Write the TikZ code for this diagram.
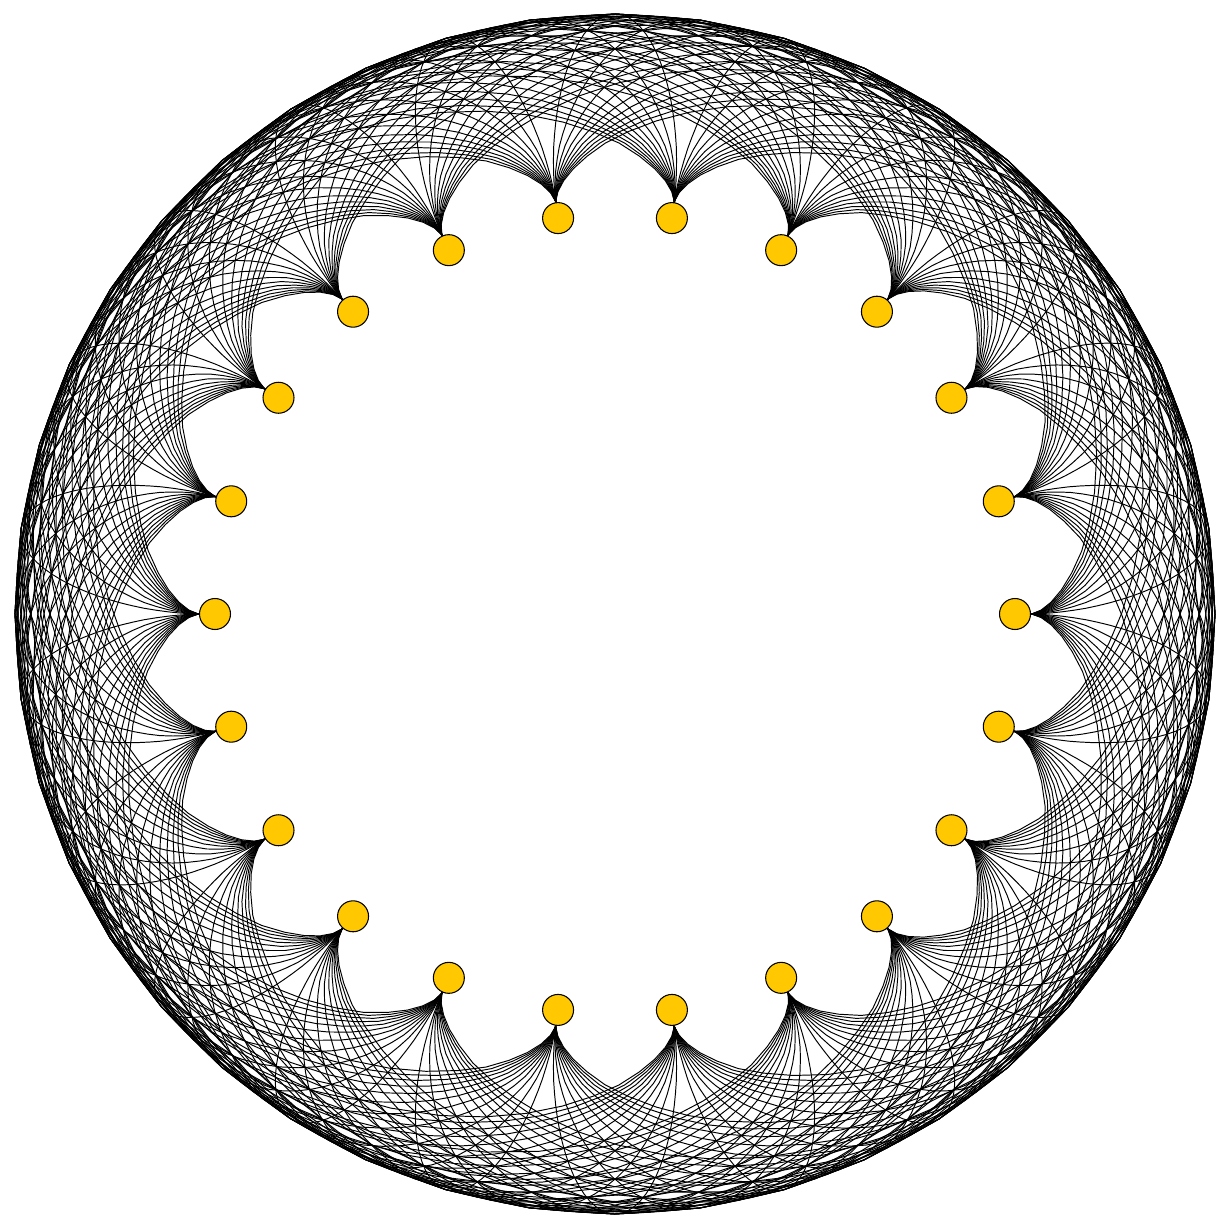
\documentclass[tikz,border=0pt]{standalone}
\usepackage{tikz}
\pgfdeclarelayer{edges}
\pgfsetlayers{edges,main}
\definecolor{vgold}{RGB}{255,200,0}
\tikzset{
  vtx/.style={circle, draw=black, line width=0.6pt, fill=vgold, minimum size=0.62cm, inner sep=0pt},
  edge/.style={draw=black, line width=0.55pt, line join=round},
}
\begin{document}
\begin{tikzpicture}[x=0.02cm, y=0.02cm]
\useasboundingbox (-615,-617) rectangle (616,614);
\pgfmathsetmacro\D{360/22}
\foreach \i in {0,...,21} {
  \pgfmathsetmacro\a{\i*\D}
  \node[vtx] (n\i) at (\a:400) {};
}
\begin{pgfonlayer}{edges}
\foreach \i in {0,...,21} {
  \foreach \k in {1,...,11} {
    \pgfmathtruncatemacro\j{mod(\i+\k,22)}
    \pgfmathtruncatemacro\skip{(\k==11 && \i>10) ? 1 : 0}
    \ifnum\skip=0
      \pgfmathsetmacro\ai{\i*\D}
      \pgfmathsetmacro\aj{\j*\D}
      \pgfmathsetmacro\ph{\k*\D}
      \draw[edge] (n\i.\ai) -- plot[domain=0.01:0.99, samples=41, variable=\s]
        ({\ai + \ph*(1-cos(180*\s))/2}:{415+185*(abs(sin(90*(1-cos(180*\s)))))^0.6})
        -- (n\j.\aj);
    \fi
  }
}
\end{pgfonlayer}
\end{tikzpicture}
\end{document}
